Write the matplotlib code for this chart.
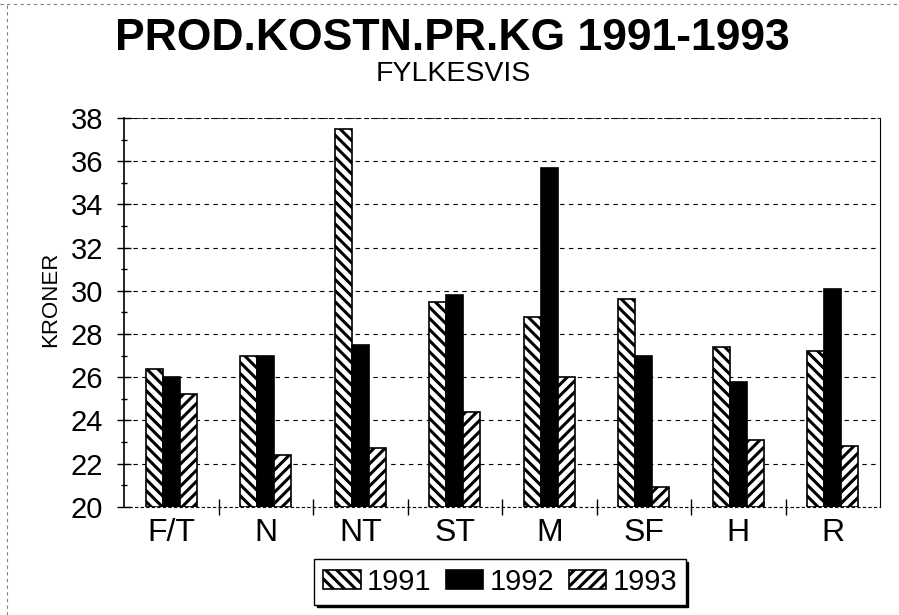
import numpy as np
import matplotlib.pyplot as plt
from matplotlib.lines import Line2D

plt.rcParams['font.family'] = ['Liberation Sans', 'DejaVu Sans']
plt.rcParams['hatch.linewidth'] = 2.2

# data
fylker = ['F/T', 'N', 'NT', 'ST', 'M', 'SF', 'H', 'R']
aar_1991 = [26.4, 27.0, 37.5, 29.5, 28.8, 29.6, 27.4, 27.2]
aar_1992 = [26.0, 27.0, 27.5, 29.8, 35.7, 27.0, 25.8, 30.1]
aar_1993 = [25.2, 22.4, 22.7, 24.4, 26.0, 20.9, 23.1, 22.8]

fig = plt.figure(figsize=(8.99, 6.15), dpi=100)
ax = fig.add_axes([0.138, 0.176, 0.841, 0.632])

x = np.arange(len(fylker))
w = 0.18
ax.bar(x - w, np.array(aar_1991) - 20, w, bottom=20, facecolor='white',
       edgecolor='black', hatch='\\\\\\', linewidth=1.2, label='1991')
ax.bar(x, np.array(aar_1992) - 20, w, bottom=20, facecolor='black',
       edgecolor='black', linewidth=1.2, label='1992')
ax.bar(x + w, np.array(aar_1993) - 20, w, bottom=20, facecolor='white',
       edgecolor='black', hatch='///', linewidth=1.2, label='1993')

ax.set_xlim(-0.5, len(fylker) - 0.5)
ax.set_ylim(20, 38)
ax.set_yticks(np.arange(20, 39, 2))
ax.set_yticks(np.arange(21, 38, 2), minor=True)
ax.tick_params(axis='y', which='major', labelsize=21, length=10, direction='inout',
               width=1, pad=10)
ax.tick_params(axis='y', which='minor', length=5, direction='inout', width=1)
ax.set_xticks(x)
ax.set_xticklabels(fylker, fontsize=23)
ax.tick_params(axis='x', which='major', length=0, pad=8)
ax.set_xticks(np.arange(0.5, len(fylker) - 0.5, 1), minor=True)
ax.tick_params(axis='x', which='minor', length=11, direction='inout', width=1)

ax.grid(axis='y', which='major', linestyle=(0, (4, 4)), color='black', linewidth=0.8)
ax.set_axisbelow(True)
ax.spines['top'].set_linestyle((0, (4, 4)))
ax.spines['top'].set_linewidth(0.6)
ax.spines['bottom'].set_linestyle((0, (2, 3)))
ax.spines['bottom'].set_linewidth(0.8)
ax.spines['right'].set_linewidth(0.8)
ax.spines['left'].set_linewidth(1.2)

ax.set_ylabel('KRONER', fontsize=16)
ax.yaxis.set_label_coords(-0.083, 0.535)

fig.text(0.503, 0.937, 'PROD.KOSTN.PR.KG 1991-1993', ha='center', va='center',
         fontsize=32, fontweight='bold')
fig.text(0.504, 0.880, 'FYLKESVIS', ha='center', va='center', fontsize=20.5)

leg = ax.legend(loc='center', bbox_to_anchor=(0.497, -0.193), ncol=3, fontsize=21,
                frameon=True, fancybox=False, edgecolor='black', handlelength=1.3,
                handleheight=0.65, handletextpad=0.2, columnspacing=0.5,
                borderpad=0.3, borderaxespad=0,
                shadow={'color': 'black', 'alpha': 1.0})
leg.get_frame().set_linewidth(1.0)

# faint page border from the scan
fig.add_artist(Line2D([0.0, 1.0], [0.993, 0.993], transform=fig.transFigure,
                      color='gray', linestyle=(0, (3, 3)), linewidth=0.8))
fig.add_artist(Line2D([0.008, 0.008], [0.0, 0.993], transform=fig.transFigure,
                      color='gray', linestyle=(0, (3, 3)), linewidth=0.8))

fig.savefig('out.png', dpi=100)
